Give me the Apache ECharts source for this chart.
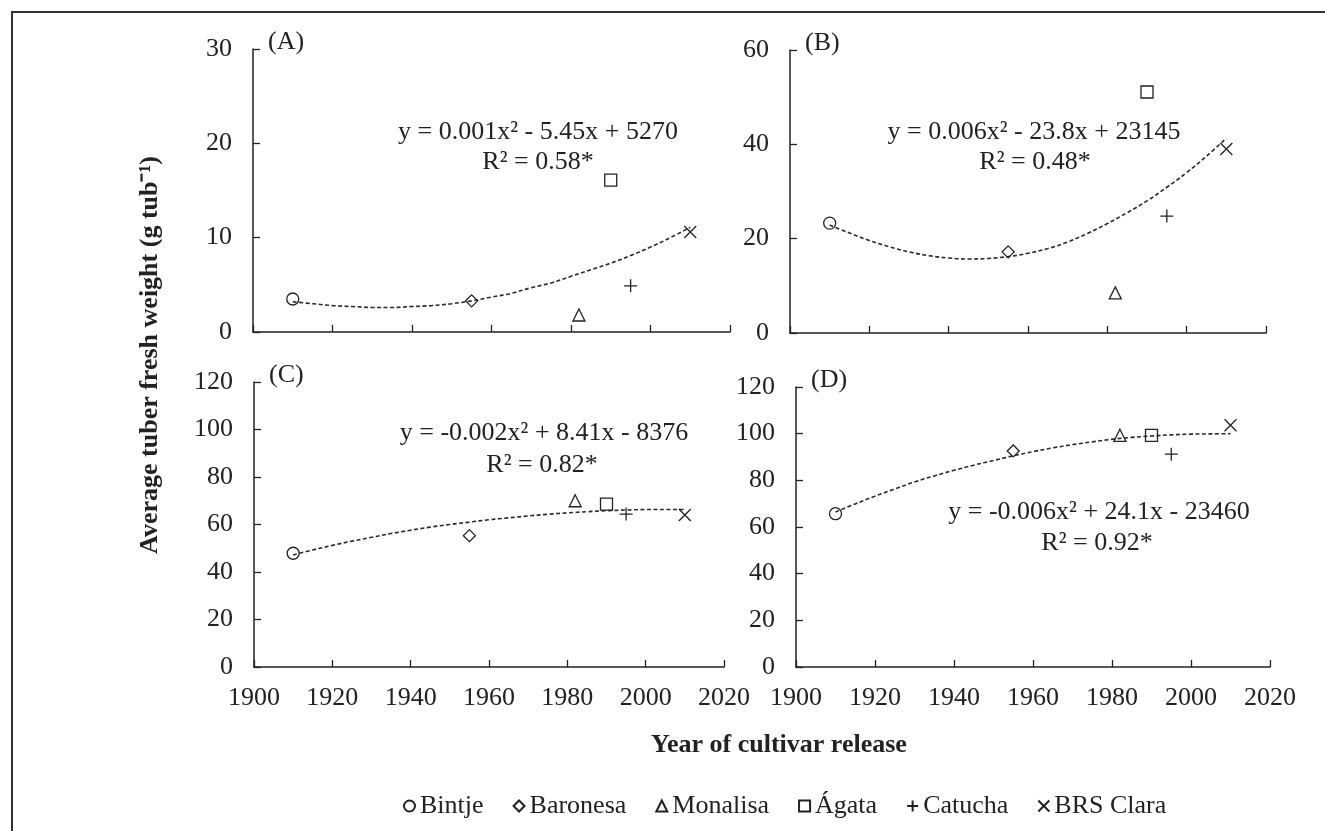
<!DOCTYPE html>
<html>
<head>
<meta charset="utf-8">
<script src="https://cdn.jsdelivr.net/npm/echarts@6/dist/echarts.min.js"></script>
<style>
  html, body { margin: 0; padding: 0; background: #fff; }
  #chart { width: 1325px; height: 831px; }
</style>
</head>
<body>
<div id="chart"></div>
<script>
// cultivars and their release years
var cultivars = ['Bintje', 'Baronesa', 'Monalisa', 'Ágata', 'Catucha', 'BRS Clara'];
var releaseYears = [1910, 1955, 1982, 1990, 1995, 2010];

// average tuber fresh weight per panel (same order as cultivars)
var weightA = [3.5, 3.3, 1.8, 16.1, 4.9, 10.6];
var weightB = [23.3, 17.2, 8.5, 51.1, 24.8, 39.0];
var weightC = [47.9, 55.3, 70.0, 68.6, 64.4, 64.0];
var weightD = [65.7, 92.6, 99.3, 99.3, 91.2, 103.6];

// fitted trend lines, every 5 years
var trendYears = [1910, 1915, 1920, 1925, 1930, 1935, 1940, 1945, 1950, 1955, 1960,
                  1965, 1970, 1975, 1980, 1985, 1990, 1995, 2000, 2005, 2010];
var trendA = [3.2, 3.0, 2.8, 2.7, 2.6, 2.6, 2.7, 2.8, 3.0, 3.3, 3.7,
              4.1, 4.7, 5.2, 5.9, 6.6, 7.3, 8.1, 9.0, 10.0, 11.1];
var trendB = [22.9, 21.2, 19.6, 18.3, 17.2, 16.4, 15.9, 15.7, 15.8, 16.2, 16.9,
              17.9, 19.3, 21.1, 23.2, 25.5, 28.0, 30.9, 34.0, 37.5, 41.3];
var trendC = [47.2, 49.3, 51.2, 53.0, 54.6, 56.2, 57.6, 58.9, 60.0, 61.0, 62.0,
              62.8, 63.6, 64.3, 64.9, 65.4, 65.8, 66.1, 66.3, 66.3, 66.3];
var trendD = [66.4, 69.9, 73.2, 76.3, 79.3, 81.9, 84.3, 86.5, 88.5, 90.5, 92.3,
              93.9, 95.3, 96.5, 97.6, 98.4, 99.0, 99.5, 99.8, 99.9, 100.0];

var equations = [
    ['y = 0.001x² - 5.45x + 5270', 'R² = 0.58*'],
    ['y = 0.006x² - 23.8x + 23145', 'R² = 0.48*'],
    ['y = -0.002x² + 8.41x - 8376', 'R² = 0.82*'],
    ['y = -0.006x² + 24.1x - 23460', 'R² = 0.92*']
];
var panelLabels = ['(A)', '(B)', '(C)', '(D)'];
var yMax = [30, 60, 120, 120];
var yStep = [10, 20, 20, 20];

var FONT = "'Liberation Serif', 'Times New Roman', serif";
var INK = '#222';

var symbols = [
    'path://M10,5A5,5,0,1,1,0,5A5,5,0,1,1,10,5Z',
    'path://M5,0L10,5L5,10L0,5Z',
    'path://M5,0L10,10L0,10Z',
    'path://M0,0H10V10H0Z',
    'path://M5,0V10M0,5H10',
    'path://M0,0L10,10M10,0L0,10'
];
var symbolSizes = [12, 12, 12, 12, 13, 12];

var weights = [weightA, weightB, weightC, weightD];
var trends = [trendA, trendB, trendC, trendD];

var grids = [
    {left: 253, top: 49, width: 477, height: 283},
    {left: 790, top: 50, width: 476, height: 283},
    {left: 254, top: 382, width: 470, height: 285},
    {left: 796, top: 387, width: 474, height: 280}
];

var chart = echarts.init(document.getElementById('chart'));

var xAxes = [], yAxes = [], series = [], graphics = [];

grids.forEach(function (g, i) {
    xAxes.push({
        type: 'value', gridIndex: i, min: 1900, max: 2020, interval: 20,
        axisLine: {show: true, onZero: false, lineStyle: {color: INK, width: 1.5}},
        axisTick: {show: true, inside: true, length: 7, lineStyle: {color: INK, width: 1.3}},
        axisLabel: {
            show: i >= 2, margin: 18, fontSize: 26, fontFamily: FONT, color: INK,
            formatter: function (v) { return String(v); }
        },
        splitLine: {show: false}
    });
    yAxes.push({
        type: 'value', gridIndex: i, min: 0, max: yMax[i], interval: yStep[i],
        axisLine: {show: true, lineStyle: {color: INK, width: 1.5}},
        axisTick: {show: true, inside: true, length: 7, lineStyle: {color: INK, width: 1.3}},
        axisLabel: {margin: 21, fontSize: 26, fontFamily: FONT, color: INK},
        splitLine: {show: false}
    });

    series.push({
        type: 'line', xAxisIndex: i, yAxisIndex: i,
        data: trendYears.map(function (y, k) { return [y, trends[i][k]]; }),
        smooth: 0.4, showSymbol: false, silent: true, z: 1,
        lineStyle: {color: '#2a2a2a', width: 1.6, type: [4, 2.5]}
    });

    cultivars.forEach(function (name, c) {
        series.push({
            type: 'scatter', name: name, xAxisIndex: i, yAxisIndex: i,
            data: [[releaseYears[c], weights[i][c]]],
            symbol: symbols[c], symbolSize: symbolSizes[c], symbolKeepAspect: true,
            itemStyle: {color: 'rgba(0,0,0,0)', borderColor: INK, borderWidth: 1.3, opacity: 1},
            z: 3
        });
    });

    graphics.push({
        type: 'text', left: g.left + 15, top: g.top - 20,
        style: {text: panelLabels[i], font: '26px ' + FONT, fill: INK}
    });
});

// equation boxes, centre positions
var eqPos = [[538, 132, 538, 162], [1034, 132, 1035, 162], [544, 433, 542, 465], [1099, 512, 1097, 543]];
eqPos.forEach(function (p, i) {
    graphics.push({
        type: 'text', x: p[0], y: p[1],
        style: {text: equations[i][0], font: '26px ' + FONT, fill: INK, textAlign: 'center', textVerticalAlign: 'middle'}
    });
    graphics.push({
        type: 'text', x: p[2], y: p[3],
        style: {text: equations[i][1], font: '26px ' + FONT, fill: INK, textAlign: 'center', textVerticalAlign: 'middle'}
    });
});

graphics.push({
    type: 'text', x: 150, y: 355, rotation: Math.PI / 2,
    style: {text: 'Average tuber fresh weight (g tub⁻¹)', font: 'bold 26px ' + FONT, fill: INK, textAlign: 'center', textVerticalAlign: 'middle'}
});
graphics.push({
    type: 'text', x: 779, y: 745,
    style: {text: 'Year of cultivar release', font: 'bold 26px ' + FONT, fill: INK, textAlign: 'center', textVerticalAlign: 'middle'}
});
graphics.push({
    type: 'rect', shape: {x: 12, y: 12, width: 1400, height: 900},
    style: {fill: 'none', stroke: '#333', lineWidth: 2}, silent: true
});

chart.setOption({
    animation: false,
    backgroundColor: '#fff',
    grid: grids,
    xAxis: xAxes,
    yAxis: yAxes,
    legend: {
        data: cultivars,
        left: 398, top: 788,
        itemWidth: 11, itemHeight: 11, itemGap: 29,
        textStyle: {fontSize: 26, fontFamily: FONT, color: INK},
        selectedMode: false
    },
    series: series,
    graphic: graphics
});
</script>
</body>
</html>
